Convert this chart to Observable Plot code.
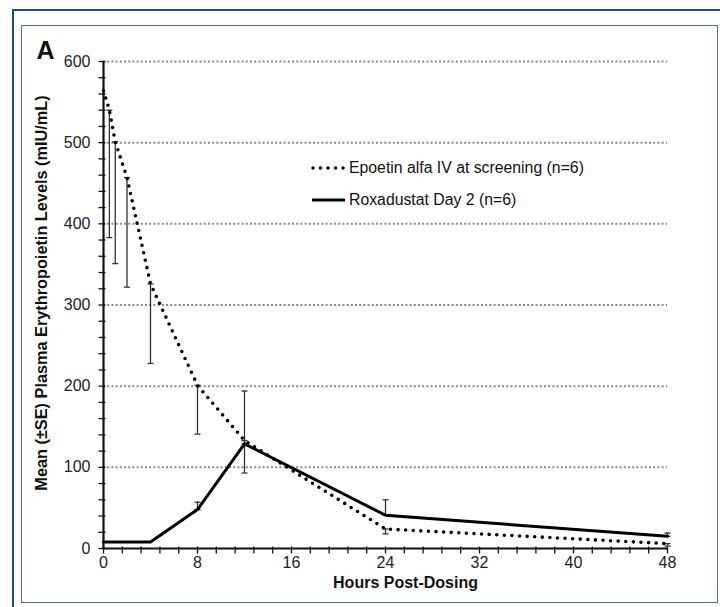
<!DOCTYPE html>
<html>
<head>
<meta charset="utf-8">
<script src="https://cdn.jsdelivr.net/npm/d3@7"></script>
<script src="https://cdn.jsdelivr.net/npm/@observablehq/plot@0.6"></script>
<style>
  html, body { margin: 0; padding: 0; background: #fff; }
  #wrap { position: relative; width: 720px; height: 607px; overflow: hidden; font-family: "Liberation Sans", Arial, sans-serif; }
  #chart svg { display: block; background: transparent; }
  .frame-outer { position: absolute; left: 12px; top: 9px; width: 720px; height: 620px; border-top: 2.5px solid #1d4a86; border-left: 2.5px solid #1d4a86; box-sizing: border-box; }
  .frame-inner { position: absolute; left: 21px; top: 25px; width: 697px; height: 578px; border: 1.5px solid #4b6db0; box-sizing: border-box; }
  .legend { position: absolute; left: 310px; font-size: 15.8px; color: #111; display: flex; align-items: center; height: 20px; white-space: nowrap; }
  .legend svg { margin-right: 3px; }
</style>
</head>
<body>
<div id="wrap">
  <div class="frame-outer"></div>
  <div class="frame-inner"></div>
  <div id="chart"></div>
  <div class="legend" style="top:158px;">
    <svg width="36" height="10"><line x1="3" y1="5" x2="34" y2="5" stroke="#000" stroke-width="3.5" stroke-linecap="round" stroke-dasharray="0,7.5"/></svg>
    <span id="leg1"></span>
  </div>
  <div class="legend" style="top:190px;">
    <svg width="36" height="10"><line x1="2" y1="5" x2="35" y2="5" stroke="#000" stroke-width="3"/></svg>
    <span id="leg2"></span>
  </div>
</div>
<script>
// ---- data ----
const epoHours = [0, 0.5, 1, 2, 4, 8, 12, 24, 48];
const epoMean = [564, 540, 501, 457, 326, 201, 133, 24, 6];
const epoLower = [null, 383, 351, 322, 228, 141, 93, 18, 3];

const roxHours = [0, 4, 8, 12, 24, 48];
const roxMean = [8, 8, 48, 129, 41, 15];
const roxUpper = [null, null, 57, 194, 60, 19];

const xTicks = [0, 8, 16, 24, 32, 40, 48];
const yTicks = [0, 100, 200, 300, 400, 500, 600];
const gridTicks = [100, 200, 300, 400, 500, 600];

const seriesNames = ["Epoetin alfa IV at screening (n=6)", "Roxadustat Day 2 (n=6)"];
const panelLabel = "A";
const xTitle = "Hours Post-Dosing";
const yTitle = "Mean (\u00B1SE) Plasma Erythropoietin Levels (mIU/mL)";

// ---- build tables ----
const epo = epoHours.map((h, i) => ({hour: h, mean: epoMean[i], low: epoLower[i]}));
const rox = roxHours.map((h, i) => ({hour: h, mean: roxMean[i], high: roxUpper[i]}));
const epoBars = epo.filter(d => d.low != null);
const roxBars = rox.filter(d => d.high != null);
const xMinor = d3.range(0, 49, 1.6);
const yMinor = d3.range(0, 601, 20);

const capSymbol = {draw(ctx) { ctx.moveTo(-3, 0); ctx.lineTo(3, 0); }};
const tickSymbol = {draw(ctx) { ctx.moveTo(-5, 0); ctx.lineTo(2, 0); }};
const xTickSymbol = {draw(ctx) { ctx.moveTo(0, -2); ctx.lineTo(0, 5); }};
const capStyle = {symbol: capSymbol, r: 1, stroke: "#333", strokeWidth: 1.3, fill: "none"};

document.getElementById("leg1").textContent = seriesNames[0];
document.getElementById("leg2").textContent = seriesNames[1];

const chart = Plot.plot({
  width: 720,
  height: 607,
  marginTop: 61,
  marginBottom: 59,
  marginLeft: 103,
  marginRight: 53,
  style: {fontFamily: "'Liberation Sans', Arial, sans-serif", fontSize: "16px", color: "#222", background: "transparent"},
  x: {domain: [0, 48]},
  y: {domain: [0, 600]},
  marks: [
    Plot.gridY(gridTicks, {stroke: "#888", strokeOpacity: 1, strokeWidth: 2, strokeDasharray: "2,2.2"}),
    Plot.axisY(yTicks, {tickSize: 0, tickPadding: 13, fill: "#222", fontSize: 16, label: null}),
    Plot.axisX(xTicks, {tickSize: 0, tickPadding: 8, fill: "#222", fontSize: 16, label: null}),
    Plot.dot(yMinor, {x: () => 0, y: d => d, symbol: tickSymbol, r: 1, stroke: "#111", strokeWidth: 1.3, fill: "none"}),
    Plot.dot(xMinor, {x: d => d, y: () => 0, symbol: xTickSymbol, r: 1, stroke: "#111", strokeWidth: 1.3, fill: "none"}),
    Plot.ruleX([0], {y1: 0, y2: 600, stroke: "#111", strokeWidth: 2.2}),
    Plot.ruleY([0], {x1: 0, x2: 48, stroke: "#111", strokeWidth: 2.2}),
    // error bars (caps at both ends)
    Plot.ruleX(epoBars, {x: "hour", y1: "mean", y2: "low", stroke: "#333", strokeWidth: 1.3}),
    Plot.dot(epoBars, {x: "hour", y: "low", ...capStyle}),
    Plot.dot(epoBars, {x: "hour", y: "mean", ...capStyle}),
    Plot.ruleX(roxBars, {x: "hour", y1: "mean", y2: "high", stroke: "#333", strokeWidth: 1.3}),
    Plot.dot(roxBars, {x: "hour", y: "high", ...capStyle}),
    Plot.dot(roxBars, {x: "hour", y: "mean", ...capStyle}),
    // series lines
    Plot.line(epo, {x: "hour", y: "mean", stroke: "#000", strokeWidth: 3.6, strokeDasharray: "0,7.6", strokeLinecap: "round"}),
    Plot.line(rox, {x: "hour", y: "mean", stroke: "#000", strokeWidth: 3}),
    // titles
    Plot.text([xTitle], {frameAnchor: "bottom", dx: 20, dy: 34, fontWeight: "bold", fontSize: 16, fill: "#111", textAnchor: "middle", lineAnchor: "middle"}),
    Plot.text([yTitle], {frameAnchor: "left", dx: -62, dy: -12, rotate: -90, fontWeight: "bold", fontSize: 16.3, fill: "#111", textAnchor: "middle", lineAnchor: "middle"}),
    Plot.text([panelLabel], {frameAnchor: "top-left", dx: -58, dy: -11, fontWeight: "bold", fontSize: 25, fill: "#111", textAnchor: "middle", lineAnchor: "middle"})
  ]
});
document.getElementById("chart").appendChild(chart);
</script>
</body>
</html>
